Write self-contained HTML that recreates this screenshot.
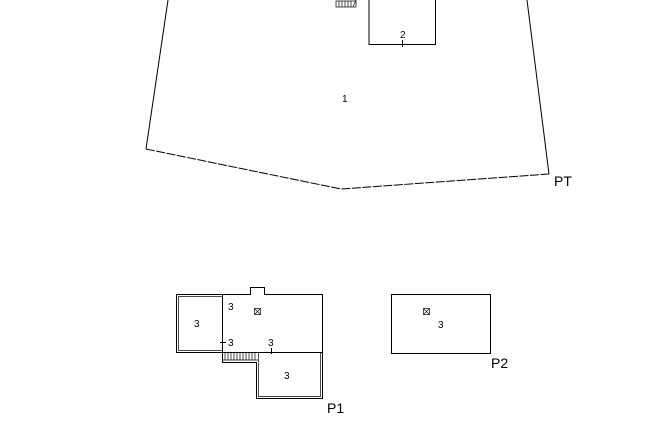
<!DOCTYPE html>
<html><head><style>body{margin:0;background:#fff}svg{display:block}text{font-family:"Liberation Sans",sans-serif;fill:#000}</style></head><body>
<svg width="663" height="425" viewBox="0 0 663 425" xmlns="http://www.w3.org/2000/svg">
<g fill="none" stroke="#000" stroke-width="1">
<polyline points="168,0 146,149"/>
<polyline points="146,149 341,189 549,174" stroke-dasharray="9,1.5"/>
<polyline points="549,174 527,0"/>
<polyline points="369,0 369,44.5 435.5,44.5 435.5,0"/>
<line x1="402.5" y1="40" x2="402.5" y2="47"/>
<g stroke-width="0.7"><rect x="336" y="1" width="20" height="6"/><line x1="339" y1="1" x2="339" y2="7"/><line x1="342" y1="1" x2="342" y2="7"/><line x1="345" y1="1" x2="345" y2="7"/><line x1="348" y1="1" x2="348" y2="7"/><line x1="351" y1="1" x2="351" y2="7"/><line x1="356" y1="0" x2="353" y2="7"/></g>
<polyline points="222.5,294.5 250.5,294.5 250.5,287.5 264.5,287.5 264.5,294.5 322.5,294.5 322.5,398.5 256.5,398.5 256.5,362.5 222.5,362.5 222.5,294.5"/>
<line x1="222.5" y1="352.5" x2="322.5" y2="352.5"/>
<rect x="176.5" y="294.5" width="46" height="58"/>
<rect x="178.5" y="296.5" width="44" height="54" stroke-width="0.7"/>
<polyline points="258.5,362.5 258.5,396.5 320.5,396.5 320.5,352.5" stroke-width="0.7"/>
<g stroke-width="0.7"><line x1="222" y1="360" x2="258" y2="360"/><line x1="225" y1="353" x2="225" y2="360"/><line x1="228" y1="353" x2="228" y2="360"/><line x1="231" y1="353" x2="231" y2="360"/><line x1="234" y1="353" x2="234" y2="360"/><line x1="237" y1="353" x2="237" y2="360"/><line x1="240" y1="353" x2="240" y2="360"/><line x1="243" y1="353" x2="243" y2="360"/><line x1="246" y1="353" x2="246" y2="360"/><line x1="249" y1="353" x2="249" y2="360"/><line x1="252" y1="353" x2="252" y2="360"/><line x1="255" y1="353" x2="255" y2="360"/><line x1="258.5" y1="352" x2="258.5" y2="362"/></g>
<line x1="220" y1="342.5" x2="226" y2="342.5"/>
<line x1="271.5" y1="348" x2="271.5" y2="354"/>
<rect x="254.5" y="308.5" width="6" height="6" stroke-width="0.7"/><path d="M254.5 308.5l6 6M260.5 308.5l-6 6" stroke-width="0.6"/>
<rect x="391.5" y="294.5" width="99" height="59"/>
<rect x="423.5" y="308.5" width="6" height="6" stroke-width="0.7"/><path d="M423.5 308.5l6 6M429.5 308.5l-6 6" stroke-width="0.6"/>
</g>
<g font-size="10">
<text x="400" y="38">2</text>
<text x="342" y="102">1</text>
<text x="228" y="310">3</text>
<text x="194" y="327">3</text>
<text x="228" y="346">3</text>
<text x="268" y="346">3</text>
<text x="284" y="379">3</text>
<text x="438" y="328">3</text>
</g>
<g font-size="14">
<text x="554" y="186">PT</text>
<text x="327" y="413">P1</text>
<text x="491" y="368">P2</text>
</g>
</svg>
</body></html>
